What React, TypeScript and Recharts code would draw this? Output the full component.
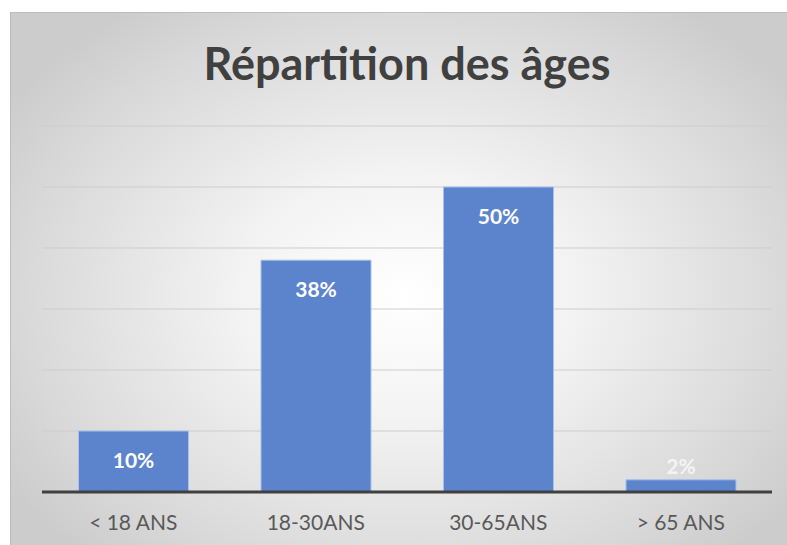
import { BarChart, Bar, XAxis, YAxis, CartesianGrid, LabelList } from 'recharts';

const categories = ['< 18 ANS', '18-30ANS', '30-65ANS', '> 65 ANS'];
const shares = [10, 38, 50, 2];
const yTicks = [0, 10, 20, 30, 40, 50, 60];

const data = categories.map((name, i) => ({ name, value: shares[i] }));

const font = 'Lato, Carlito, Calibri, sans-serif';

function BarValueLabel(props: any) {
  const { x, y, width, height, value } = props;
  const small = height < 40;
  const ly = small ? y - 14 : y + 28;
  return (
    <text x={x + width / 2} y={ly} textAnchor="middle" dominantBaseline="central" fill={small ? '#f4f4f4' : '#ffffff'} fontFamily={font} fontWeight={700} fontSize={21}>
      {value}%
    </text>
  );
}

export default function App() {
  return (
    <div style={{ position: 'absolute', left: 0, top: 0, width: 787, height: 545, overflow: 'hidden', background: '#ffffff' }}>
      <div
        style={{
          position: 'absolute',
          left: 10,
          top: 12,
          width: 792,
          height: 545,
          boxSizing: 'border-box',
          borderTop: '1px solid #bdbdbd',
          borderLeft: '1px solid #bdbdbd',
          background: 'radial-gradient(ellipse 60% 65% at 50% 52%, #ffffff 0%, #f3f3f3 35%, #d9d9d9 80%, #cccccc 100%)',
        }}
      >
        <div style={{ position: 'absolute', left: 0, top: 23, width: 792, textAlign: 'center', fontFamily: font, fontWeight: 700, fontSize: 45, color: '#404040' }}>
          Répartition des âges
        </div>
        <BarChart width={792} height={545} data={data} margin={{ top: 113, right: 31, bottom: 26, left: 31 }} barCategoryGap="20%">
          <CartesianGrid horizontal vertical={false} stroke="#cdcdcd" />
          <YAxis hide domain={[0, 60]} ticks={yTicks} />
          <XAxis
            dataKey="name"
            height={40}
            tickLine={false}
            axisLine={{ stroke: '#404040', strokeWidth: 3 }}
            tickMargin={17}
            tick={{ fontFamily: font, fontSize: 21, fill: '#595959' }}
          />
          <Bar dataKey="value" fill="#5b84cd" stroke="#a9c0e8" strokeWidth={1} isAnimationActive={false}>
            <LabelList dataKey="value" content={BarValueLabel} />
          </Bar>
        </BarChart>
      </div>
    </div>
  );
}
